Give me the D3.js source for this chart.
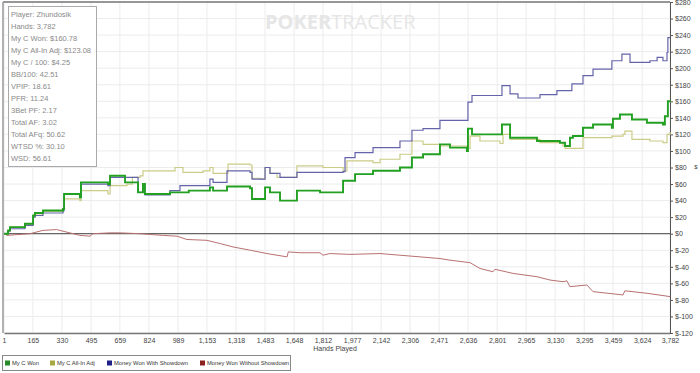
<!DOCTYPE html>
<html>
<head>
<meta charset="utf-8">
<script src="https://cdn.jsdelivr.net/npm/d3@7"></script>
<style>
  body { margin: 0; background: #fff; }
  svg { display: block; font-family: "Liberation Sans", Arial, sans-serif; }
  .tick text { fill: #444; font-size: 7px; }
  .info { fill: #8a8a8a; font-size: 7.5px; }
</style>
</head>
<body>
<svg id="chart" width="700" height="373"></svg>
<script>
// Chart values (hand number, dollars)
let myCWon = [[1,0],[24,4],[35,8],[120,12],[166,22],[177,25],[222,28],[336,30],[342,48],[432,44],[438,62],[591,60],[603,70],[688,62],[762,50],[790,60],[801,48],[943,50],[1050,52],[1170,56],[1188,52],[1267,57],[1398,55],[1409,42],[1483,56],[1511,50],[1568,40],[1664,52],[1795,50],[1926,64],[1994,72],[2096,76],[2249,80],[2317,92],[2380,96],[2476,108],[2533,104],[2629,100],[2635,127],[2658,120],[2828,132],[2874,116],[3027,112],[3157,110],[3186,106],[3214,116],[3231,118],[3288,128],[3345,132],[3452,128],[3458,139],[3498,144],[3566,138],[3651,134],[3742,132],[3753,142],[3770,160],[3782,161]];
let myCAllInAdj = [[1,0],[24,3],[35,8],[120,11],[166,20],[177,24],[222,27],[336,30],[342,42],[432,40],[438,52],[591,48],[603,58],[699,60],[730,68],[773,70],[790,76],[972,80],[1017,74],[1131,76],[1170,80],[1188,73],[1273,84],[1398,83],[1409,67],[1454,66],[1483,80],[1511,73],[1551,68],[1664,82],[1812,80],[1926,76],[1948,88],[2096,86],[2136,90],[2249,96],[2317,112],[2380,108],[2476,106],[2629,103],[2647,118],[2703,112],[2817,109],[2834,120],[2874,114],[3044,110],[3174,106],[3186,103],[3288,116],[3452,118],[3515,120],[3526,124],[3566,114],[3668,112],[3742,110],[3765,120],[3782,123]];
let wonWithShowdown = [[1,0],[24,3],[35,6],[120,10],[166,20],[177,22],[222,25],[336,28],[342,48],[432,46],[438,60],[591,58],[603,68],[699,68],[762,50],[790,60],[801,47],[943,52],[1000,58],[1170,66],[1188,62],[1267,76],[1398,74],[1409,66],[1483,80],[1511,73],[1568,68],[1664,74],[1926,75],[1937,92],[1994,98],[2096,104],[2249,112],[2317,125],[2380,127],[2476,137],[2635,159],[2658,167],[2828,179],[2874,169],[2919,164],[3044,168],[3140,173],[3225,181],[3288,191],[3345,199],[3452,209],[3509,217],[3555,207],[3668,209],[3709,213],[3742,209],[3765,219],[3770,237],[3782,237]];
let wonWithoutShowdown = [[1,0],[18,-2],[149,0],[222,4],[300,5],[336,3],[432,-2],[489,-3],[506,0],[603,1],[660,1],[773,0],[900,-2],[983,-3],[1040,-7],[1153,-8],[1230,-12],[1301,-16],[1400,-20],[1494,-24],[1608,-28],[1615,-22],[1681,-23],[1795,-23],[1812,-26],[1850,-24],[1965,-25],[2136,-24],[2249,-26],[2363,-28],[2476,-30],[2533,-32],[2647,-35],[2703,-42],[2777,-46],[2788,-43],[2891,-48],[3027,-52],[3101,-56],[3174,-58],[3197,-57],[3214,-64],[3310,-62],[3345,-70],[3515,-74],[3526,-69],[3651,-72],[3782,-76]];

let handTicks = [1,165,330,495,659,824,989,1153,1318,1483,1648,1812,1977,2142,2306,2471,2636,2801,2965,3130,3295,3459,3624,3782];
let dollarTicks = [-120,-100,-80,-60,-40,-20,0,20,40,60,80,100,120,140,160,180,200,220,240,260,280];

let seriesNames = ["My C Won", "My C All-In Adj", "Money Won With Showdown", "Money Won Without Showdown"];
let infoLines = ["Player: Zhundosik", "Hands: 3,782", "My C Won: $160.78", "My C All-In Adj: $123.08",
  "My C / 100: $4.25", "BB/100: 42.51", "VPIP: 18.61", "PFR: 11.24", "3Bet PF: 2.17",
  "Total AF: 3.02", "Total AFq: 50.62", "WTSD %: 30.10", "WSD: 56.61"];

let svg = d3.select("#chart");
let plotLeft = 4, plotRight = 670, plotTop = 2, plotBottom = 333;

let x = d3.scaleLinear().domain([1, 3782]).range([plotLeft, plotRight]);
let y = d3.scaleLinear().domain([-120, 280]).range([plotBottom, plotTop]);

// Grid
svg.append("g").selectAll("line").data(handTicks).enter().append("line")
  .attr("x1", d => x(d)).attr("x2", d => x(d)).attr("y1", plotTop).attr("y2", plotBottom)
  .style("stroke", "#ececec").style("stroke-width", 1);
svg.append("g").selectAll("line").data(dollarTicks).enter().append("line")
  .attr("x1", plotLeft).attr("x2", plotRight).attr("y1", d => y(d)).attr("y2", d => y(d))
  .style("stroke", "#ececec").style("stroke-width", 1);

// Watermark
let wm = svg.append("text").attr("x", 265).attr("y", 29)
  .style("font-size", "20px").style("fill", "#e6e6e6").style("font-family", "'Open Sans', 'DejaVu Sans', sans-serif");
wm.append("tspan").style("font-weight", "bold").text("POKER");
wm.append("tspan").style("font-weight", "normal").text("TRACKER");

// Frame
svg.append("line").attr("x1", plotLeft - 1).attr("x2", plotRight).attr("y1", plotTop).attr("y2", plotTop)
  .style("stroke", "#777").style("stroke-width", 1.5);
svg.append("line").attr("x1", plotLeft - 1).attr("x2", plotLeft - 1).attr("y1", plotTop).attr("y2", plotBottom)
  .style("stroke", "#999").style("stroke-width", 1.5);
svg.append("line").attr("x1", plotLeft).attr("x2", plotRight).attr("y1", y(0)).attr("y2", y(0))
  .style("stroke", "#666").style("stroke-width", 1.2);

// Axes
let xAxis = svg.append("g").attr("transform", "translate(0," + plotBottom + ")")
  .call(d3.axisBottom(x).tickValues(handTicks).tickSize(0).tickPadding(5).tickFormat(d3.format(",")));
xAxis.select(".domain").style("stroke", "#777").style("stroke-width", 1.5);

let yAxis = svg.append("g").attr("transform", "translate(" + plotRight + ",0)")
  .call(d3.axisRight(y).tickValues(dollarTicks).tickSize(3).tickPadding(2)
    .tickFormat(d => "$" + d));
yAxis.select(".domain").style("stroke", "#555").style("stroke-width", 1);
yAxis.selectAll(".tick line").style("stroke", "#555");

svg.append("text").attr("x", 335).attr("y", 351).attr("text-anchor", "middle")
  .style("font-size", "7px").style("fill", "#444").text("Hands Played");
svg.append("text").attr("x", 696).attr("y", 169).attr("text-anchor", "middle")
  .style("font-size", "6px").style("fill", "#444").text("$");

// Lines
let colors = ["#22a022", "#cccc88", "#6464aa", "#b87070"];
let widths = [1.9, 1.2, 1.2, 1];
let allSeries = [myCWon, myCAllInAdj, wonWithShowdown, wonWithoutShowdown];
let drawOrder = [3, 1, 2, 0];

drawOrder.forEach(function(i) {
  let line = d3.line()
    .x(d => x(d[0]))
    .y(d => y(d[1]))
    .curve(i === 3 ? d3.curveLinear : d3.curveStepAfter);
  svg.append("path").datum(allSeries[i])
    .attr("d", line)
    .style("fill", "none")
    .style("stroke", colors[i])
    .style("stroke-width", widths[i]);
});

// Info box
svg.append("rect").attr("x", 8.5).attr("y", 6.5).attr("width", 88).attr("height", 160)
  .style("fill", "#fff").style("stroke", "#aaa");
svg.selectAll(".info").data(infoLines).enter().append("text")
  .attr("class", "info")
  .attr("x", 11).attr("y", (d, i) => 17 + i * 12)
  .text(d => d);

// Legend
let legendColors = ["#2a8a2a", "#a8a840", "#20208a", "#8a2020"];
let legendX = [5, 50, 107, 200];
svg.append("rect").attr("x", 2.5).attr("y", 355.5).attr("width", 288).attr("height", 15)
  .style("fill", "#fff").style("stroke", "#888");
let lg = svg.selectAll(".lg").data(seriesNames).enter().append("g")
  .attr("class", "lg")
  .attr("transform", (d, i) => "translate(" + legendX[i] + ",363)");
lg.append("rect").attr("x", 0).attr("y", -2.5).attr("width", 5).attr("height", 5)
  .style("fill", (d, i) => legendColors[i]);
lg.append("text").attr("x", 7).attr("y", 2.2)
  .style("font-size", "5.8px").style("fill", "#333").text(d => d);
</script>
</body>
</html>
